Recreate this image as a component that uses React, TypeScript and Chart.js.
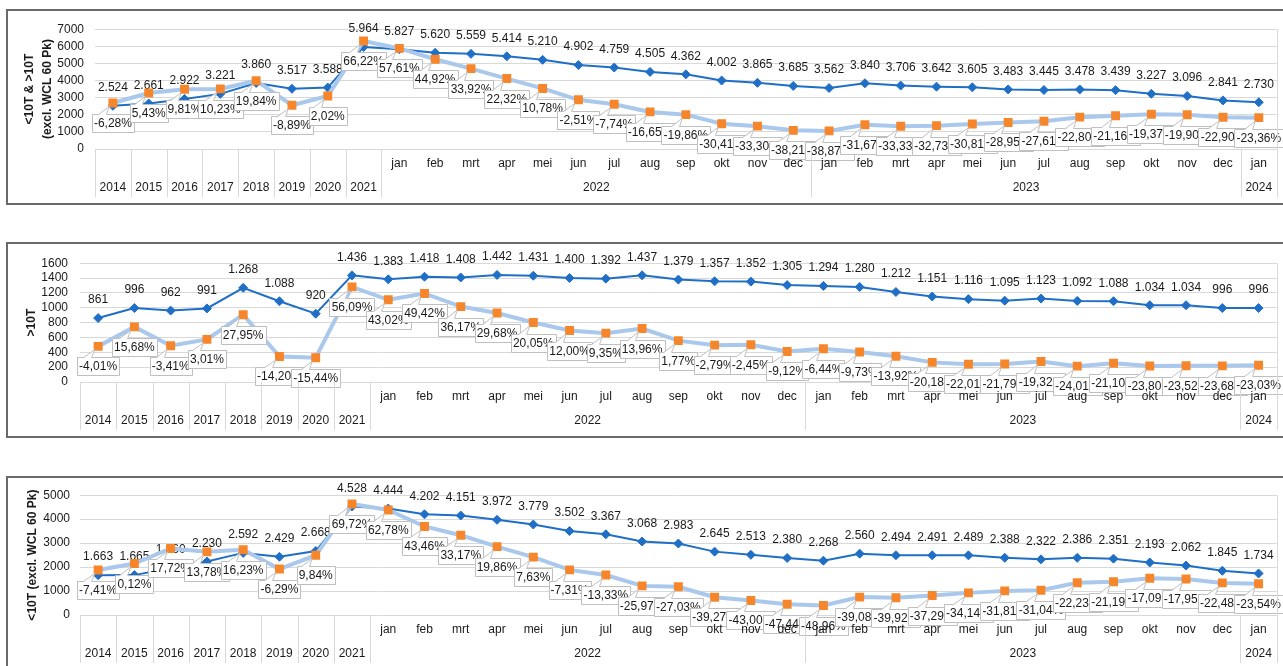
import React, { useEffect, useRef } from 'react';
import { Chart, registerables } from 'chart.js';
Chart.register(...registerables);

// ---------- data ----------
const annualYears = ['2014', '2015', '2016', '2017', '2018', '2019', '2020', '2021'];
const monthNames = ['jan', 'feb', 'mrt', 'apr', 'mei', 'jun', 'jul', 'aug', 'sep', 'okt', 'nov', 'dec'];
const monthGroupYears = ['2022', '2023', '2024'];
const monthGroupSizes = [12, 12, 1];

const totalValues = [2524, 2661, 2922, 3221, 3860, 3517, 3588, 5964,
  5827, 5620, 5559, 5414, 5210, 4902, 4759, 4505, 4362, 4002, 3865, 3685,
  3562, 3840, 3706, 3642, 3605, 3483, 3445, 3478, 3439, 3227, 3096, 2841,
  2730];
const totalPct = [-6.28, 5.43, 9.81, 10.23, 19.84, -8.89, 2.02, 66.22,
  57.61, 44.92, 33.92, 22.32, 10.78, -2.51, -7.74, -16.65, -19.86, -30.41, -33.30, -38.21,
  -38.87, -31.67, -33.33, -32.73, -30.81, -28.95, -27.61, -22.80, -21.16, -19.37, -19.90, -22.90,
  -23.36];

const heavyValues = [861, 996, 962, 991, 1268, 1088, 920, 1436,
  1383, 1418, 1408, 1442, 1431, 1400, 1392, 1437, 1379, 1357, 1352, 1305,
  1294, 1280, 1212, 1151, 1116, 1095, 1123, 1092, 1088, 1034, 1034, 996,
  996];
const heavyPct = [-4.01, 15.68, -3.41, 3.01, 27.95, -14.20, -15.44, 56.09,
  43.02, 49.42, 36.17, 29.68, 20.05, 12.00, 9.35, 13.96, 1.77, -2.79, -2.45, -9.12,
  -6.44, -9.73, -13.92, -20.18, -22.01, -21.79, -19.32, -24.01, -21.10, -23.80, -23.52, -23.68,
  -23.03];

const lightValues = [1663, 1665, 1960, 2230, 2592, 2429, 2668, 4528,
  4444, 4202, 4151, 3972, 3779, 3502, 3367, 3068, 2983, 2645, 2513, 2380,
  2268, 2560, 2494, 2491, 2489, 2388, 2322, 2386, 2351, 2193, 2062, 1845,
  1734];
const lightPct = [-7.41, 0.12, 17.72, 13.78, 16.23, -6.29, 9.84, 69.72,
  62.78, 43.46, 33.17, 19.86, 7.63, -7.31, -13.33, -25.97, -27.03, -39.27, -43.00, -47.44,
  -48.96, -39.08, -39.92, -37.29, -34.14, -31.81, -31.04, -22.23, -21.19, -17.09, -17.95, -22.48,
  -23.54];

const yTitleTotal = ['<10T & >10T', '(excl. WCL 60 Pk)'];
const yTitleHeavy = '>10T';
const yTitleLight = '<10T (excl. WCL 60 Pk)';

// ---------- helpers ----------
type Cat = { top: string; bottom: string };
const categories: Cat[] = [];
annualYears.forEach((y) => categories.push({ top: '', bottom: y }));
monthGroupYears.forEach((_y, g) => {
  for (let m = 0; m < monthGroupSizes[g]; m++) categories.push({ top: monthNames[m], bottom: '' });
});
const labels = categories.map((c, i) => c.top || c.bottom || String(i));

const fmtInt = (v: number) =>
  v >= 1000 ? Math.floor(v / 1000) + '.' + String(v % 1000).padStart(3, '0') : String(v);
const fmtPct = (v: number) => v.toFixed(2).replace('.', ',') + '%';

const FONT = '"Liberation Sans", Arial, sans-serif';
const TEXT = '#1a1a1a';
const GRID = '#D9D9D9';
const BLUE = '#1F6FC6';
const LIGHT = '#A9C8EC';
const ORANGE = '#F7862A';

Chart.defaults.font.family = FONT;

type PanelCfg = {
  top: number;
  values: number[];
  pcts: number[];
  yMax: number;
  yStep: number;
  y1Min: number;
  y1Max: number;
  yWidth: number;
  title: string | string[];
  titlePad: number;
  tickPad: number;
  padTop: number;
  padBottom: number;
};

const panels: PanelCfg[] = [
  { top: 9, values: totalValues, pcts: totalPct, yMax: 7000, yStep: 1000, y1Min: -60, y1Max: 80,
    yWidth: 87, title: yTitleTotal, titlePad: 13, tickPad: 11, padTop: 15, padBottom: 54 },
  { top: 242, values: heavyValues, pcts: heavyPct, yMax: 1600, yStep: 200, y1Min: -40, y1Max: 80,
    yWidth: 72, title: yTitleHeavy, titlePad: 15, tickPad: 12, padTop: 16, padBottom: 54 },
  { top: 476, values: lightValues, pcts: lightPct, yMax: 5000, yStep: 1000, y1Min: -60, y1Max: 80,
    yWidth: 72, title: yTitleLight, titlePad: 16, tickPad: 10, padTop: 15, padBottom: 55 },
];

const CW = 1275;
const CH = 192;

function Panel({ cfg }: { cfg: PanelCfg }) {
  const ref = useRef<HTMLCanvasElement | null>(null);
  useEffect(() => {
    if (!ref.current) return;
    const valuePlugin = {
      id: 'valueLabels',
      beforeDatasetsDraw(chart: any) {
        const ctx = chart.ctx;
        const meta = chart.getDatasetMeta(0);
        ctx.save();
        ctx.font = '12px ' + FONT;
        ctx.fillStyle = TEXT;
        ctx.textAlign = 'center';
        ctx.textBaseline = 'middle';
        meta.data.forEach((pt: any, i: number) => {
          ctx.fillText(fmtInt(cfg.values[i]), pt.x, pt.y - 18);
        });
        ctx.restore();
      },
    };
    const calloutPlugin = {
      id: 'callouts',
      afterDatasetsDraw(chart: any) {
        const ctx = chart.ctx;
        const meta = chart.getDatasetMeta(1);
        ctx.save();
        ctx.font = '12px ' + FONT;
        ctx.lineWidth = 1;
        meta.data.forEach((pt: any, i: number) => {
          const text = fmtPct(cfg.pcts[i]);
          const tw = ctx.measureText(text).width;
          const w = Math.round(tw + 4);
          const h = 18;
          const cx = pt.x;
          const left = Math.round(cx - w / 2) + 0.5;
          const top = Math.round(pt.y + 11) + 0.5;
          ctx.fillStyle = '#ffffff';
          ctx.strokeStyle = '#BFBFBF';
          ctx.beginPath();
          ctx.rect(left, top, w, h);
          ctx.fill();
          ctx.stroke();
          const tx1 = Math.round(cx - 15) + 0.5;
          const tx2 = Math.round(cx - 7) + 0.5;
          const tipX = pt.x - 3.5;
          const tipY = pt.y + 3.5;
          ctx.beginPath();
          ctx.moveTo(tx1, top + 0.5);
          ctx.lineTo(tipX, tipY);
          ctx.lineTo(tx2, top + 0.5);
          ctx.closePath();
          ctx.fill();
          ctx.beginPath();
          ctx.moveTo(tx1, top);
          ctx.lineTo(tipX, tipY);
          ctx.lineTo(tx2, top);
          ctx.stroke();
          ctx.fillStyle = TEXT;
          ctx.textAlign = 'center';
          ctx.textBaseline = 'middle';
          ctx.fillText(text, cx, top + h / 2 + 0.5);
        });
        ctx.restore();
      },
    };
    const axisPlugin = {
      id: 'multiAxis',
      afterDraw(chart: any) {
        const ctx = chart.ctx;
        const x = chart.scales.x;
        const area = chart.chartArea;
        const step = x.getPixelForValue(1) - x.getPixelForValue(0);
        const b = area.bottom;
        ctx.save();
        ctx.strokeStyle = GRID;
        ctx.lineWidth = 1;
        const seps: number[] = [];
        for (let i = 0; i <= annualYears.length; i++) seps.push(i);
        let acc = annualYears.length;
        monthGroupSizes.forEach((s) => {
          acc += s;
          seps.push(acc);
        });
        seps.forEach((k, idx) => {
          const px = Math.round(x.getPixelForValue(0) + (k - 0.5) * step) + 0.5;
          const isLast = idx === seps.length - 1;
          ctx.beginPath();
          ctx.moveTo(px, isLast ? area.top : b);
          ctx.lineTo(px, b + 48);
          ctx.stroke();
        });
        ctx.fillStyle = TEXT;
        ctx.font = '12px ' + FONT;
        ctx.textAlign = 'center';
        ctx.textBaseline = 'middle';
        categories.forEach((c, i) => {
          const px = x.getPixelForValue(i);
          if (c.top) ctx.fillText(c.top, px, b + 14.5);
          if (c.bottom) ctx.fillText(c.bottom, px, b + 38.5);
        });
        let start = annualYears.length;
        monthGroupYears.forEach((y, g) => {
          const end = start + monthGroupSizes[g] - 1;
          const px = (x.getPixelForValue(start) + x.getPixelForValue(end)) / 2;
          ctx.fillText(y, px, b + 38.5);
          start = end + 1;
        });
        ctx.restore();
      },
    };

    const chart = new Chart(ref.current, {
      type: 'line',
      data: {
        labels,
        datasets: [
          {
            data: cfg.values,
            yAxisID: 'y',
            order: 1,
            borderColor: BLUE,
            backgroundColor: BLUE,
            borderWidth: 2,
            pointStyle: 'rectRot',
            pointRadius: 4.5,
            pointBackgroundColor: BLUE,
            pointBorderColor: BLUE,
            pointBorderWidth: 1,
            tension: 0,
          },
          {
            data: cfg.pcts,
            yAxisID: 'y1',
            order: 0,
            borderColor: LIGHT,
            backgroundColor: ORANGE,
            borderWidth: 4,
            pointStyle: 'rect',
            pointRadius: 6.3,
            pointBackgroundColor: ORANGE,
            pointBorderColor: ORANGE,
            pointBorderWidth: 0,
            tension: 0,
          },
        ],
      },
      options: {
        animation: false,
        responsive: false,
        events: [],
        layout: { padding: { top: cfg.padTop, bottom: cfg.padBottom, left: 0, right: 6 } },
        plugins: { legend: { display: false }, tooltip: { enabled: false } },
        scales: {
          x: { type: 'category', offset: true, display: false },
          y: {
            position: 'left',
            min: 0,
            max: cfg.yMax,
            ticks: {
              stepSize: cfg.yStep,
              autoSkip: false,
              padding: cfg.tickPad,
              color: TEXT,
              font: { size: 12, family: FONT },
              callback: (v: any) => String(v),
            },
            grid: { color: GRID, drawTicks: false, lineWidth: 1 },
            border: { display: false },
            title: {
              display: true,
              text: cfg.title,
              color: TEXT,
              font: { size: 12, weight: 'bold', family: FONT, lineHeight: 1.5 },
              padding: { top: cfg.titlePad, bottom: 0 },
            },
            afterFit: (s: any) => {
              s.width = cfg.yWidth;
            },
          },
          y1: { display: false, min: cfg.y1Min, max: cfg.y1Max, position: 'right' },
        },
      } as any,
      plugins: [valuePlugin, calloutPlugin, axisPlugin],
    });
    return () => chart.destroy();
  }, [cfg]);

  return (
    <div
      style={{
        position: 'absolute',
        left: 6,
        top: cfg.top,
        width: CW,
        height: CH,
        border: '2px solid #6a6a6a',
        background: '#ffffff',
      }}
    >
      <canvas ref={ref} width={CW} height={CH} style={{ display: 'block', width: CW, height: CH }} />
    </div>
  );
}

export default function App() {
  return (
    <div
      style={{
        position: 'absolute',
        left: 0,
        top: 0,
        width: 1283,
        height: 666,
        overflow: 'hidden',
        background: '#ffffff',
      }}
    >
      {panels.map((p, i) => (
        <Panel key={i} cfg={p} />
      ))}
    </div>
  );
}
